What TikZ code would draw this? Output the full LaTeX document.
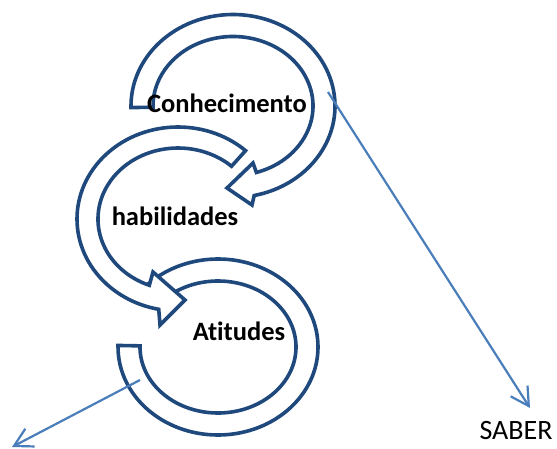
\documentclass[tikz,border=0pt]{standalone}
\usepackage{fontspec}
\setmainfont{Carlito}[Ligatures=CommonOff]
\usetikzlibrary{arrows.meta}
\definecolor{ringblue}{RGB}{31,73,125}
\definecolor{linkblue}{RGB}{74,126,187}
\begin{document}
\begin{tikzpicture}
  [x=1pt,y=1pt,
   ring/.style={draw=ringblue,line width=3.6pt,fill=white,line join=miter},
   link/.style={draw=linkblue,line width=2.2pt,-{Straight Barb[length=18pt,width=20pt]}},
   lbl/.style={font=\fontsize{26.5}{30}\selectfont\bfseries,anchor=base,inner sep=0pt}]
  \useasboundingbox (0,0) rectangle (557,448);

  % lower ring, open at the left
  \draw[ring,shift={(218,101)}] (140:100 and 88)
    arc[start angle=140,end angle=-181,x radius=100,y radius=88]
    -- (-181:78 and 66)
    arc[start angle=-181,end angle=140,x radius=78,y radius=66] -- cycle;

  % middle ring, head at the bottom
  \draw[ring,shift={(178,229)}] (48:101 and 92)
    arc[start angle=48,end angle=259,x radius=101,y radius=92]
    -- (-18,-106) -- (7,-81) -- (-25,-53) -- (249:80 and 71)
    arc[start angle=249,end angle=48,x radius=80,y radius=71] -- cycle;

  % upper ring, head at the bottom
  \draw[ring,shift={(233,342)}] (181:102 and 91.5)
    arc[start angle=181,end angle=-78,x radius=102,y radius=91.5]
    -- (19,-99) -- (-6,-82) -- (20,-57) -- (-73:80 and 69.5)
    arc[start angle=-73,end angle=181,x radius=80,y radius=69.5] -- cycle;

  \node[lbl] (know) at (227,335) {Conhecimento};
  \node[lbl] (skill) at (175,223) {habilidades};
  \node[lbl] (attit) at (239,108) {Atitudes};
  \node[font=\fontsize{28}{32}\selectfont,anchor=base,inner sep=0pt] (saber) at (516,9) {SABER};

  \coordinate (k1) at (328,356);
  \coordinate (k2) at (530,40);
  \coordinate (a1) at (140,68);
  \coordinate (a2) at (12,1);
  \draw[link] (k1) -- (k2);
  \draw[link] (a1) -- (a2);
\end{tikzpicture}
\end{document}
